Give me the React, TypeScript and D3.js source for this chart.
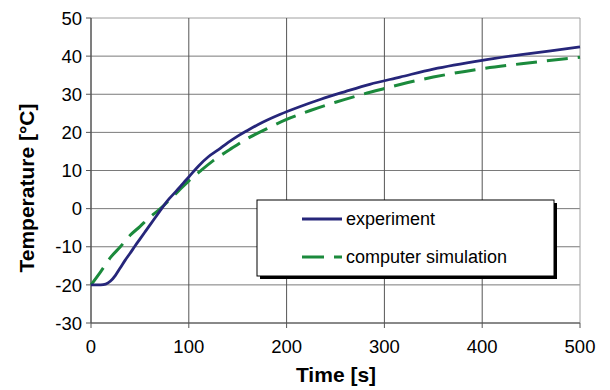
import React from "react";
import * as d3 from "d3";

const xTicks = [0, 100, 200, 300, 400, 500];
const yTicks = [-30, -20, -10, 0, 10, 20, 30, 40, 50];

const expTime = [0, 10, 15, 20, 25, 30, 35, 40, 45, 50, 55, 60, 65, 70, 75, 80, 85, 90, 95, 100, 110, 120, 130, 140, 150, 160, 175, 193, 214, 235, 260, 285, 316, 350, 400, 440, 470, 500];
const expTemp = [-20, -20, -19.8, -19, -17.5, -15.5, -13.5, -11.7, -9.8, -8, -6.2, -4.4, -2.6, -0.8, 1, 2.6, 4, 5.4, 6.9, 8.3, 11.2, 13.6, 15.4, 17.3, 19, 20.5, 22.6, 24.7, 26.8, 28.7, 30.7, 32.6, 34.5, 36.6, 38.9, 40.4, 41.4, 42.4];

const simTime = [0, 10, 20, 30, 40, 50, 60, 70, 80, 90, 100, 111, 125, 142, 160, 180, 200, 225, 250, 275, 300, 323, 350, 400, 440, 500];
const simTemp = [-20, -16.5, -12.8, -10, -7, -4.7, -2.3, -0.2, 2.2, 4.8, 7.3, 9.7, 12.6, 15.5, 18.4, 21, 23.4, 25.8, 27.9, 29.8, 31.5, 33, 34.5, 36.7, 38, 39.7];

const seriesNames = ["experiment", "computer simulation"];

export default function App() {
  const W = 610, H = 390;
  const L = 91, R = 580, T = 18, B = 323;
  const x = d3.scaleLinear().domain([0, 500]).range([L, R]);
  const y = d3.scaleLinear().domain([-30, 50]).range([B, T]);
  const line = d3.line<[number, number]>().x(d => x(d[0])).y(d => y(d[1])).curve(d3.curveMonotoneX);
  const expPts = expTime.map((t, i) => [t, expTemp[i]] as [number, number]);
  const simPts = simTime.map((t, i) => [t, simTemp[i]] as [number, number]);
  const font = "'Liberation Sans', Arial, sans-serif";
  const blue = "#26267a";
  const green = "#1b8a3c";
  const lx = 257, ly = 200, lw = 297, lh = 76;
  return (
    <svg width={W} height={H} style={{ position: "absolute", left: 0, top: 0 }} fontFamily={font}>
      <rect x={0} y={0} width={W} height={H} fill="#fff" />
      {yTicks.map(v => (
        <line key={"gy" + v} x1={L} x2={R} y1={y(v)} y2={y(v)} stroke={v === 50 ? "#a0a0a0" : "#7a7a7a"} strokeWidth={1} />
      ))}
      {xTicks.map(v => (
        <line key={"gx" + v} x1={x(v)} x2={x(v)} y1={T} y2={B} stroke={v === 500 ? "#a0a0a0" : "#555"} strokeWidth={1} />
      ))}
      <line x1={L} x2={L} y1={T} y2={B} stroke="#555" strokeWidth={1} />
      <line x1={L} x2={R} y1={B} y2={B} stroke="#555" strokeWidth={1} />
      {yTicks.map(v => (
        <g key={"ty" + v}>
          <line x1={L - 5} x2={L} y1={y(v)} y2={y(v)} stroke="#555" />
          <text x={82} y={y(v)} dy="0.36em" textAnchor="end" fontSize={18.5} fill="#000">{v}</text>
        </g>
      ))}
      {xTicks.map(v => (
        <g key={"tx" + v}>
          <line x1={x(v)} x2={x(v)} y1={B} y2={B + 5} stroke="#555" />
          <text x={x(v)} y={353} textAnchor="middle" fontSize={18.5} fill="#000">{v}</text>
        </g>
      ))}
      <path d={line(simPts) || ""} fill="none" stroke={green} strokeWidth={3} strokeDasharray="21,10" />
      <path d={line(expPts) || ""} fill="none" stroke={blue} strokeWidth={2.8} />
      <rect x={lx + 3} y={ly + 3} width={lw} height={lh} fill="#000" />
      <rect x={lx} y={ly} width={lw} height={lh} fill="#fff" stroke="#000" strokeWidth={1} />
      <line x1={302} x2={342} y1={219} y2={219} stroke={blue} strokeWidth={2.8} />
      <text x={346} y={219} dy="0.36em" fontSize={18} fill="#000">{seriesNames[0]}</text>
      <line x1={302} x2={342} y1={257} y2={257} stroke={green} strokeWidth={3} strokeDasharray="22,10" />
      <text x={346} y={257} dy="0.36em" fontSize={18} fill="#000">{seriesNames[1]}</text>
      <text x={336} y={382} textAnchor="middle" fontSize={21} fontWeight="bold" fill="#000">Time [s]</text>
      <text transform={`translate(34,188) rotate(-90)`} textAnchor="middle" fontSize={21} fontWeight="bold" fill="#000">Temperature [°C]</text>
    </svg>
  );
}
